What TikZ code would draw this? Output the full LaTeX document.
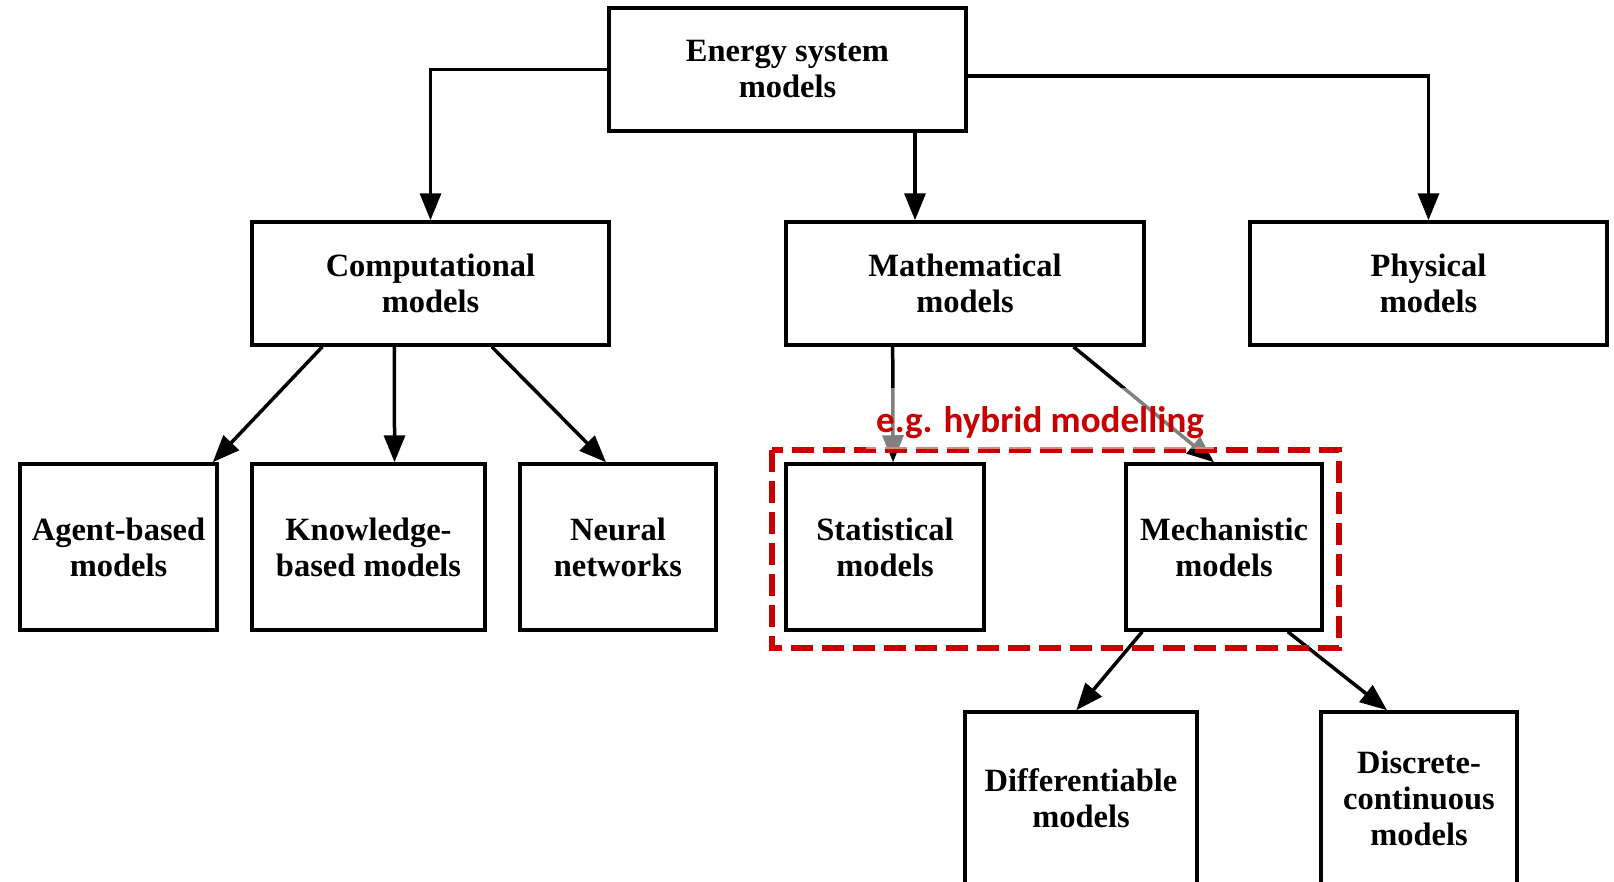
\documentclass[tikz,border=0pt]{standalone}
\usepackage{fontspec}
\setmainfont{Liberation Serif}
\newfontfamily\labelfont{Carlito}
\usetikzlibrary{arrows.meta,calc}
\definecolor{hyred}{RGB}{200,0,0}
\tikzset{
  box/.style={draw=black, line width=3.5pt, fill=white, align=center,
    inner sep=0pt, font=\fontsize{32.5}{36}\selectfont\bfseries},
  arr/.style={line width=3.5pt, -{Triangle[length=27pt,width=21pt]}},
  hybrid/.style={draw=hyred, line width=6pt, dash pattern=on 22pt off 9pt},
}
\begin{document}
\begin{tikzpicture}[x=1pt, y=-1pt]
\useasboundingbox (0,0) rectangle (1614,881);
\clip (0,0) rectangle (1614,881);
\fill[white] (0,0) rectangle (1614,881);

% top level
\node[box, minimum width=357pt, minimum height=123pt] (top) at (787.5,69.5) {Energy system\\models};

% second level
\node[box, minimum width=357pt, minimum height=123pt] (comp) at (430.5,283.5) {Computational\\models};
\node[box, minimum width=358pt, minimum height=123pt] (math) at (965,283.5) {Mathematical\\models};
\node[box, minimum width=357pt, minimum height=123pt] (phys) at (1428.5,283.5) {Physical\\models};

% third level
\node[box, minimum width=197pt, minimum height=166pt] (agent) at (118.5,547) {Agent-based\\models};
\node[box, minimum width=233pt, minimum height=166pt] (know) at (368.5,547) {Knowledge-\\based models};
\node[box, minimum width=196pt, minimum height=166pt] (neural) at (618,547) {Neural\\networks};
\node[box, minimum width=198pt, minimum height=166pt] (stat) at (885,547) {Statistical\\models};
\node[box, minimum width=196pt, minimum height=166pt] (mech) at (1224,547) {Mechanistic\\models};

% fourth level
\node[box, minimum width=232pt, minimum height=172pt] (diff) at (1081,798) {Differentiable\\models};
\node[box, minimum width=196pt, minimum height=172pt] (disc) at (1419,798) {Discrete-\\continuous\\models};

% connectors from the top box
\coordinate (mx) at (915,0);
\draw[arr] (top.west) -| (comp.north);
\draw[arr] (top.south -| mx) -- (math.north -| mx);
\draw[arr] ($(top.east)+(0,6.5)$) -| (phys.north);

% computational branch
\draw[arr] ($(comp.south west)!0.20!(comp.south east)$) -- ($(agent.north west)!0.97!(agent.north east)$);
\draw[arr] ($(comp.south west)!0.40!(comp.south east)$) -- ($(know.north west)!0.61!(know.north east)$);
\draw[arr] ($(comp.south west)!0.67!(comp.south east)$) -- ($(neural.north west)!0.44!(neural.north east)$);

% mathematical branch
\draw[arr] ($(math.south west)!0.30!(math.south east)$) -- ($(stat.north west)!0.54!(stat.north east)$);
\draw[arr] ($(math.south west)!0.80!(math.south east)$) -- ($(mech.north west)!0.45!(mech.north east)$);

% mechanistic branch
\draw[arr] ($(mech.south west)!0.09!(mech.south east)$) -- ($(diff.north west)!0.48!(diff.north east)$);
\draw[arr] ($(mech.south west)!0.82!(mech.south east)$) -- ($(disc.north west)!0.34!(disc.north east)$);

% hybrid modelling frame with a pale band behind its label
\draw[hybrid] (772,450) rectangle (1339,648);
\fill[white, opacity=0.5] (866,388) rectangle (1214,449);
\node[text=hyred, font=\labelfont\fontsize{37}{40}\selectfont\bfseries] (hyb) at (1040,423) {e.g. hybrid modelling};
\end{tikzpicture}
\end{document}
